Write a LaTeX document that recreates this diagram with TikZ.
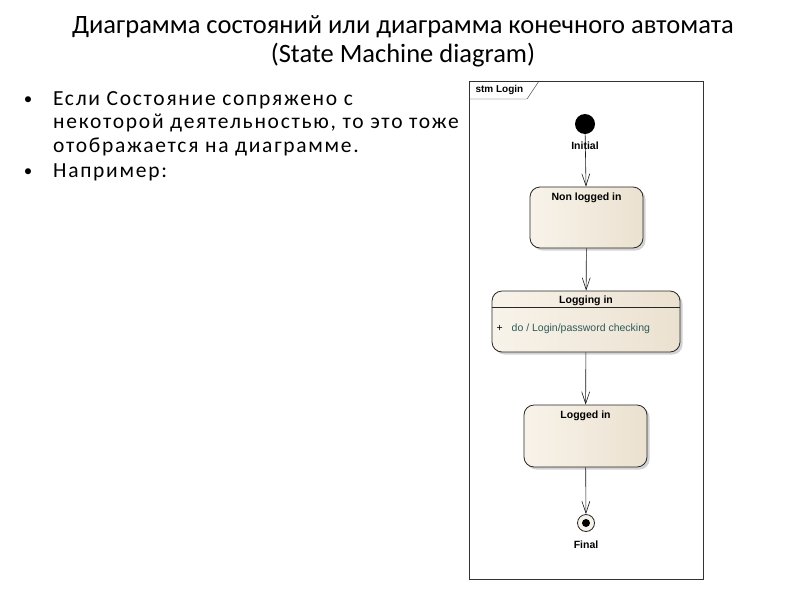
\documentclass[tikz,border=0pt]{standalone}
\usepackage{fontspec}
\setmainfont{Carlito}
\newfontfamily\bodyfont[LetterSpace=8]{Carlito}
\newfontfamily\umlfont{Liberation Sans}
\usepackage{xcolor}
\usepackage{tikz}
\usetikzlibrary{positioning,arrows.meta,shadows}

\definecolor{stateleft}{HTML}{F8F3EA}
\definecolor{stateright}{HTML}{EBE1D0}
\definecolor{dotext}{HTML}{2E5A5A}

\begin{document}
\begin{tikzpicture}[x=1pt, y=-1pt,
			state/.style={draw=black!85, thick, rounded corners=10pt, left color=stateleft, right color=stateright,
				drop shadow={shadow xshift=2.5pt, shadow yshift=-2.5pt, fill=black!35}},
			statename/.style={font=\umlfont\bfseries\fontsize{10.5}{12}\selectfont},
			trans/.style={draw=black!90, semithick, -{Straight Barb[length=12pt,width=8pt]}},
			bullet/.style={anchor=base west, font=\bodyfont\fontsize{21.5}{24}\selectfont, inner sep=0pt},
			dot/.style={anchor=base, font=\fontsize{17}{20}\selectfont, inner sep=0pt},
			heading/.style={anchor=base, font=\fontsize{26.5}{30}\selectfont, inner sep=0pt},
		]
		\useasboundingbox (0,0) rectangle (800,600);

		% title
		\node[heading] (title1) at (403,33) {Диаграмма состояний или диаграмма конечного автомата};
		\node[heading] (title2) at (403,62) {(State Machine diagram)};

		% bullet list
		\node[dot] (b1) at (28,104) {•};
		\node[bullet] (t1) at (53,105) {Если Состояние сопряжено с};
		\node[bullet] (t2) at (53,128.5) {некоторой деятельностью, то это тоже};
		\node[bullet] (t3) at (53,152) {отображается на диаграмме.};
		\node[dot] (b2) at (28,176) {•};
		\node[bullet] (t4) at (53,177) {Например:};

		% frame
		\draw[black!80, thick] (469,81) rectangle (703,579);
		\draw[black!80] (469,99) -- (527,99) -- (539,81);
		\node[statename, anchor=west, font=\umlfont\bfseries\fontsize{10}{12}\selectfont] (frame) at (472,90) {stm Login};

		% states
		\node[circle, fill=black, minimum size=20pt, inner sep=0pt] (init) at (585,124) {};
		\node[state, minimum width=113pt, minimum height=61pt] (nonlog) at (586.5,217.5) {};
		\node[state, minimum width=188pt, minimum height=61pt] (logging) at (586,321.5) {};
		\node[state, minimum width=123pt, minimum height=62pt] (logged) at (585.5,436) {};
		\node[circle, draw=black!85, thick, fill=stateleft, minimum size=17pt, inner sep=0pt] (final) at (586,523) {};
		\fill[black] (final.center) circle (4pt);

		\node[statename] at ([yshift=-11pt]nonlog.north) {Non logged in};
		\node[statename] at ([yshift=-10pt]logging.north) {Logging in};
		\draw[black!85] ([yshift=-17pt]logging.north west) -- ([yshift=-17pt]logging.north east);
		\node[font=\umlfont\fontsize{10.5}{12}\selectfont, anchor=west] (act) at (493,329)
			{+\hspace{9pt}\textcolor{dotext}{do / Login/password checking}};
		\node[statename] at ([yshift=-11pt]logged.north) {Logged in};

		% transitions
		\draw[trans] (init) -- (nonlog);
		\draw[trans] (nonlog) -- (logging);
		\draw[trans] (logging) -- (logged);
		\draw[trans] (logged) -- (final);

		\node[statename] (initlbl) at (585,146) {Initial};
		\node[statename] (finallbl) at (586,545) {Final};

		\end{tikzpicture}
\end{document}
